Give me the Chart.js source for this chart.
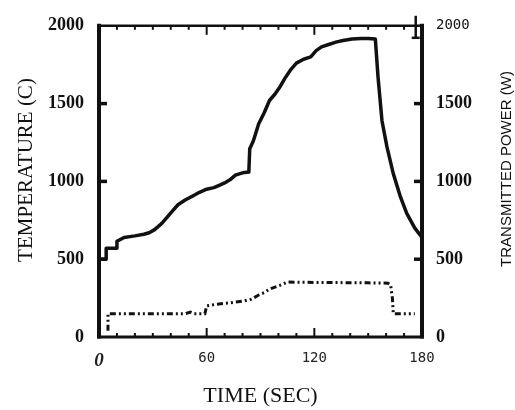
<!DOCTYPE html>
<html lang="en">
<head>
<meta charset="UTF-8">
<title>Temperature and transmitted power</title>
<style>
  html, body { margin: 0; padding: 0; background: #fff; }
  #wrap { width: 515px; height: 410px; }
</style>
</head>
<body>
<div id="wrap"><canvas id="myChart" width="515" height="410"></canvas></div>
<script src="https://cdn.jsdelivr.net/npm/chart.js"></script>
<script>
// temperature (C), left axis
const tempTime = [0, 4, 4, 10, 10, 14, 20, 25, 28, 31, 35, 38, 41, 44, 48, 52, 56, 60, 64, 67, 70, 73, 76, 80, 83.5,
                  84, 86, 89, 92, 95, 98, 101, 104, 107, 110, 114, 118, 121, 124, 128, 132, 136, 141, 146, 150, 154,
                  155.5, 157.7, 160.5, 164, 168, 171.5, 176, 180];
const tempC = [500, 500, 570, 570, 615, 640, 650, 660, 670, 690, 730, 770, 810, 850, 880, 905, 930, 950, 960, 975, 990, 1010, 1040, 1055, 1060,
               1210, 1260, 1370, 1440, 1520, 1560, 1610, 1670, 1720, 1760, 1785, 1800, 1840, 1865, 1880, 1895, 1905, 1915, 1918, 1918, 1915,
               1670, 1390, 1220, 1050, 900, 795, 700, 640];

// transmitted power (W), right axis
const powerTime = [5, 5, 20, 40, 48, 51, 53, 59, 60, 65, 72, 80, 85, 89, 92, 95, 101, 105, 110, 130, 150, 161, 162.5, 163.5, 164, 169, 176];
const powerW = [40, 150, 150, 150, 150, 160, 150, 150, 200, 210, 218, 230, 243, 270, 285, 308, 333, 353, 352, 350, 348, 346, 335, 250, 150, 150, 150];

const xTicks = [0, 60, 120, 180];
const yTicks = [0, 500, 1000, 1500, 2000];

function pts(xs, ys) {
    let out = [];
    for (let i = 0; i < xs.length; i++) out.push({x: xs[i], y: ys[i]});
    return out;
}

const serifBold = {family: "'Liberation Serif', 'DejaVu Serif', serif", size: 18, weight: 'bold'};
const monoLight = {family: "'DejaVu Sans Mono', monospace", size: 14, weight: 'normal'};

// frame, inward tick marks, side titles
const framePlugin = {
    id: 'frame',
    afterDraw(chart) {
        const c = chart.ctx;
        const a = chart.chartArea;
        const sx = chart.scales.x, sy = chart.scales.y;
        c.save();
        c.strokeStyle = '#111';
        c.lineCap = 'butt';

        // frame
        c.lineWidth = 4;
        c.beginPath(); c.moveTo(a.left, a.top - 2); c.lineTo(a.left, a.bottom + 1.5); c.stroke();
        c.beginPath(); c.moveTo(a.right, a.top - 2); c.lineTo(a.right, a.bottom + 1.5); c.stroke();
        c.lineWidth = 3;
        c.beginPath(); c.moveTo(a.left - 2, a.bottom); c.lineTo(a.right + 2, a.bottom); c.stroke();
        c.lineWidth = 2.5;
        c.beginPath(); c.moveTo(a.left - 2, a.top); c.lineTo(a.right + 2, a.top); c.stroke();

        // time ticks every 10 s, pointing in
        c.lineWidth = 2;
        for (let t = 10; t < 180; t += 10) {
            const px = sx.getPixelForValue(t);
            const len = (t % 60 === 0) ? 9 : 4;
            c.beginPath(); c.moveTo(px, a.bottom); c.lineTo(px, a.bottom - len); c.stroke();
            c.beginPath(); c.moveTo(px, a.top); c.lineTo(px, a.top + len); c.stroke();
        }
        // odd tall mark near the top right corner
        const pk = sx.getPixelForValue(176.5);
        c.lineWidth = 2.5;
        c.beginPath(); c.moveTo(pk, a.top - 10); c.lineTo(pk, a.top + 12); c.stroke();
        c.beginPath(); c.moveTo(pk - 4, a.top + 12); c.lineTo(pk + 4, a.top + 12); c.stroke();

        // temperature / power ticks
        c.lineWidth = 3.5;
        for (let v = 500; v < 2000; v += 500) {
            const py = sy.getPixelForValue(v);
            c.beginPath(); c.moveTo(a.left, py); c.lineTo(a.left + 8, py); c.stroke();
            c.beginPath(); c.moveTo(a.right, py); c.lineTo(a.right - 8, py); c.stroke();
        }

        // side titles, both read bottom to top
        c.fillStyle = '#111';
        c.textAlign = 'center';
        c.textBaseline = 'middle';
        c.save();
        c.translate(26, 170);
        c.rotate(-Math.PI / 2);
        c.font = "21px 'Liberation Serif', 'DejaVu Serif', serif";
        c.fillText('TEMPERATURE (C)', 0, 0);
        c.restore();
        c.save();
        c.translate(507, 169);
        c.rotate(-Math.PI / 2);
        c.font = "15px 'Liberation Sans', 'DejaVu Sans', sans-serif";
        c.fillText('TRANSMITTED POWER (W)', 0, 0);
        c.restore();
        c.restore();
    }
};

const ctx = document.getElementById('myChart');

new Chart(ctx, {
    type: 'line',
    data: {
        datasets: [{
            label: 'Temperature',
            data: pts(tempTime, tempC),
            yAxisID: 'y',
            borderColor: '#111',
            borderWidth: 3.5,
            pointRadius: 0,
            tension: 0,
            borderJoinStyle: 'round'
        }, {
            label: 'Transmitted power',
            data: pts(powerTime, powerW),
            yAxisID: 'y1',
            borderColor: '#111',
            borderWidth: 3,
            borderDash: [6, 3, 2, 3, 2, 3],
            pointRadius: 0,
            tension: 0
        }]
    },
    options: {
        responsive: false,
        animation: false,
        layout: { padding: { top: 25, right: 0, left: 0, bottom: 0 } },
        plugins: {
            legend: { display: false },
            tooltip: { enabled: false }
        },
        scales: {
            x: {
                type: 'linear',
                min: 0,
                max: 180,
                afterBuildTicks: (s) => { s.ticks = xTicks.map(v => ({value: v})); },
                afterFit: (s) => { s.height = 73; },
                grid: { display: false, drawTicks: false },
                border: { display: false },
                ticks: {
                    color: '#222',
                    padding: 13,
                    maxRotation: 0,
                    callback: (v) => String(v),
                    font: (c) => (c.tick && c.tick.value === 0)
                        ? {family: "'Liberation Serif', serif", size: 19, weight: 'bold', style: 'italic'}
                        : monoLight
                },
                title: {
                    display: true,
                    text: 'TIME (SEC)',
                    color: '#111',
                    font: {family: "'Liberation Serif', 'DejaVu Serif', serif", size: 22},
                    padding: {top: 0, bottom: 1}
                }
            },
            y: {
                position: 'left',
                min: 0,
                max: 2000,
                afterBuildTicks: (s) => { s.ticks = yTicks.map(v => ({value: v})); },
                afterFit: (s) => { s.width = 99; },
                grid: { display: false, drawTicks: false },
                border: { display: false },
                ticks: { color: '#111', padding: 15, font: serifBold, callback: (v) => String(v) }
            },
            y1: {
                position: 'right',
                min: 0,
                max: 2000,
                afterBuildTicks: (s) => { s.ticks = yTicks.map(v => ({value: v})); },
                afterFit: (s) => { s.width = 93; },
                grid: { display: false, drawTicks: false },
                border: { display: false },
                ticks: {
                    color: '#111',
                    padding: 14,
                    callback: (v) => String(v),
                    font: (c) => (c.tick && c.tick.value === 2000) ? monoLight : serifBold
                }
            }
        }
    },
    plugins: [framePlugin]
});
</script>
</body>
</html>
